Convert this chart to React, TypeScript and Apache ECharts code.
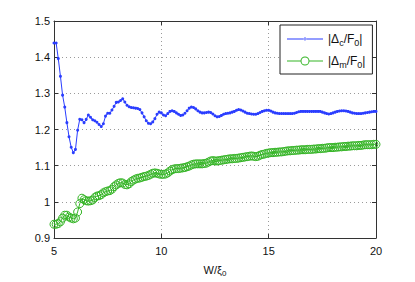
import React, { useEffect, useRef } from "react";
import * as echarts from "echarts";

const xs = [
  5, 5.1, 5.2, 5.3, 5.4, 5.5, 5.6, 5.7, 5.8, 5.9,
  6, 6.1, 6.2, 6.3, 6.4, 6.5, 6.6, 6.7, 6.8, 6.9,
  7, 7.1, 7.2, 7.3, 7.4, 7.5, 7.6, 7.7, 7.8, 7.9,
  8, 8.1, 8.2, 8.3, 8.4, 8.5, 8.6, 8.7, 8.8, 8.9,
  9, 9.1, 9.2, 9.3, 9.4, 9.5, 9.6, 9.7, 9.8, 9.9,
  10, 10.1, 10.2, 10.3, 10.4, 10.5, 10.6, 10.7, 10.8, 10.9,
  11, 11.1, 11.2, 11.3, 11.4, 11.5, 11.6, 11.7, 11.8, 11.9,
  12, 12.1, 12.2, 12.3, 12.4, 12.5, 12.6, 12.7, 12.8, 12.9,
  13, 13.1, 13.2, 13.3, 13.4, 13.5, 13.6, 13.7, 13.8, 13.9,
  14, 14.1, 14.2, 14.3, 14.4, 14.5, 14.6, 14.7, 14.8, 14.9,
  15, 15.1, 15.2, 15.3, 15.4, 15.5, 15.6, 15.7, 15.8, 15.9,
  16, 16.1, 16.2, 16.3, 16.4, 16.5, 16.6, 16.7, 16.8, 16.9,
  17, 17.1, 17.2, 17.3, 17.4, 17.5, 17.6, 17.7, 17.8, 17.9,
  18, 18.1, 18.2, 18.3, 18.4, 18.5, 18.6, 18.7, 18.8, 18.9,
  19, 19.1, 19.2, 19.3, 19.4, 19.5, 19.6, 19.7, 19.8, 19.9,
  20,
];

const deltaC = [
  1.439, 1.439, 1.396, 1.347, 1.295, 1.262, 1.219, 1.18, 1.151, 1.136,
  1.145, 1.198, 1.228, 1.227, 1.219, 1.228, 1.24, 1.234, 1.227, 1.224,
  1.22, 1.214, 1.208, 1.216, 1.237, 1.245, 1.245, 1.254, 1.264, 1.275,
  1.276, 1.28, 1.285, 1.276, 1.267, 1.263, 1.261, 1.26, 1.259, 1.258,
  1.255, 1.246, 1.235, 1.224, 1.217, 1.216, 1.221, 1.23, 1.242, 1.248,
  1.246, 1.24, 1.238, 1.244, 1.25, 1.252, 1.25, 1.246, 1.242, 1.239,
  1.24, 1.245, 1.252, 1.259, 1.262, 1.261, 1.257, 1.252, 1.248, 1.246,
  1.246, 1.247, 1.248, 1.247, 1.243, 1.238, 1.235, 1.236, 1.239, 1.242,
  1.244, 1.245, 1.246, 1.248, 1.25, 1.253, 1.255, 1.254, 1.251, 1.248,
  1.245, 1.244, 1.243, 1.242, 1.242, 1.244, 1.247, 1.25, 1.252, 1.253,
  1.253, 1.251, 1.248, 1.246, 1.245, 1.244, 1.244, 1.244, 1.244, 1.244,
  1.244, 1.244, 1.245, 1.247, 1.249, 1.25, 1.25, 1.25, 1.25, 1.25,
  1.25, 1.25, 1.25, 1.25, 1.25, 1.248, 1.246, 1.244, 1.243, 1.244,
  1.246, 1.248, 1.25, 1.251, 1.252, 1.252, 1.251, 1.25, 1.248, 1.246,
  1.245, 1.244, 1.244, 1.244, 1.245, 1.246, 1.247, 1.248, 1.249, 1.25,
  1.25,
];

const deltaM = [
  0.938, 0.938, 0.94, 0.945, 0.955, 0.963, 0.963, 0.958, 0.955, 0.953,
  0.955, 0.972, 0.995, 1.01, 1.006, 1.003, 1.002, 1.003, 1.005, 1.012,
  1.016, 1.017, 1.02, 1.025, 1.028, 1.03, 1.031, 1.035, 1.042, 1.047,
  1.051, 1.053, 1.052, 1.048, 1.047, 1.05, 1.056, 1.06, 1.063, 1.065,
  1.066, 1.068, 1.07, 1.071, 1.073, 1.076, 1.079, 1.08, 1.079, 1.077,
  1.076, 1.076, 1.077, 1.08, 1.085, 1.089, 1.091, 1.092, 1.092, 1.093,
  1.094, 1.095, 1.097, 1.099, 1.102, 1.104, 1.105, 1.105, 1.105, 1.105,
  1.106, 1.107, 1.11, 1.113, 1.114, 1.113, 1.113, 1.114, 1.115, 1.116,
  1.117, 1.118, 1.119, 1.119, 1.12, 1.12, 1.121, 1.122, 1.123, 1.124,
  1.125, 1.126, 1.127, 1.126, 1.125, 1.126, 1.129, 1.131, 1.132, 1.134,
  1.135, 1.136, 1.136, 1.137, 1.137, 1.138, 1.138, 1.139, 1.14, 1.141,
  1.141, 1.142, 1.142, 1.143, 1.143, 1.144, 1.144, 1.144, 1.145, 1.145,
  1.145, 1.146, 1.146, 1.147, 1.147, 1.148, 1.148, 1.149, 1.15, 1.15,
  1.15, 1.151, 1.151, 1.152, 1.152, 1.153, 1.153, 1.154, 1.154, 1.155,
  1.155, 1.155, 1.156, 1.156, 1.157, 1.158, 1.158, 1.158, 1.158, 1.159,
  1.159,
];

const xMin = 5;
const xMax = 20;
const xStep = 5;
const yMin = 0.9;
const yMax = 1.5;
const yStep = 0.1;

const seriesNames = ["|Δ{s|c}/F{s|0}|", "|Δ{s|m}/F{s|0}|"];
const xAxisName = "{n|W/ξ}{s|0}";

const FONT = "'Liberation Sans', Arial, Helvetica, sans-serif";
const BLUE = "#2a3dff";
const GREEN = "#35b526";

// legend icons: line with a small dot / line with a hollow circle
const ICON_DOT =
  "path://M0 4.5H36V5.5H0Z M16.6 5A1.4 1.4 0 1 0 19.4 5A1.4 1.4 0 1 0 16.6 5Z";
const ICON_RING =
  "path://M0 4.5H13.6V5.5H0Z M22.4 4.5H36V5.5H22.4Z M13.5 5A4.5 4.5 0 1 1 22.5 5A4.5 4.5 0 1 1 13.5 5Z M14.5 5A3.5 3.5 0 1 0 21.5 5A3.5 3.5 0 1 0 14.5 5Z";

export default function App() {
  const ref = useRef<HTMLDivElement>(null);

  useEffect(() => {
    if (!ref.current) return;
    const chart = echarts.init(ref.current, null, { renderer: "svg" });
    const axisLine = { show: true, lineStyle: { color: "#333", width: 1 } };
    const tick = { show: true, inside: true, length: 4, lineStyle: { color: "#333" } };
    const grid = { show: true, lineStyle: { color: "#9a9a9a", type: [1, 3], width: 1 } };
    chart.setOption({
      animation: false,
      backgroundColor: "#fff",
      textStyle: { fontFamily: FONT },
      grid: { left: 54, right: 39, top: 21, bottom: 39, containLabel: false },
      xAxis: [
        {
          type: "value",
          min: xMin,
          max: xMax,
          interval: xStep,
          position: "bottom",
          axisLine,
          axisTick: tick,
          splitLine: grid,
          axisLabel: { color: "#111", fontSize: 11, fontFamily: FONT, margin: 7 },
          name: xAxisName,
          nameLocation: "middle",
          nameGap: 24,
          nameTextStyle: {
            color: "#111",
            fontFamily: FONT,
            rich: {
              n: { fontSize: 11, fontFamily: FONT, color: "#111" },
              s: { fontSize: 8, fontFamily: FONT, color: "#111", padding: [7, 0, 0, 0] },
            },
          },
        },
        {
          type: "value",
          min: xMin,
          max: xMax,
          interval: xStep,
          position: "top",
          axisLine,
          axisTick: tick,
          splitLine: { show: false },
          axisLabel: { show: false },
        },
      ],
      yAxis: [
        {
          type: "value",
          min: yMin,
          max: yMax,
          interval: yStep,
          position: "left",
          axisLine,
          axisTick: tick,
          splitLine: grid,
          axisLabel: { color: "#111", fontSize: 11, fontFamily: FONT, margin: 4 },
        },
        {
          type: "value",
          min: yMin,
          max: yMax,
          interval: yStep,
          position: "right",
          axisLine,
          axisTick: tick,
          splitLine: { show: false },
          axisLabel: { show: false },
        },
      ],
      legend: {
        left: 280,
        top: 25,
        orient: "vertical",
        backgroundColor: "#fff",
        borderColor: "#222",
        borderWidth: 1,
        borderRadius: 0,
        padding: [8, 7, 5, 7],
        itemGap: 8,
        itemWidth: 36,
        itemHeight: 10,
        textStyle: {
          color: "#111",
          fontSize: 12,
          fontFamily: FONT,
          rich: {
            s: { fontSize: 9, fontFamily: FONT, color: "#111", padding: [7, 0, 0, 0] },
          },
        },
        data: [
          { name: seriesNames[0], icon: ICON_DOT, itemStyle: { color: BLUE, borderWidth: 0 } },
          { name: seriesNames[1], icon: ICON_RING, itemStyle: { color: GREEN, borderWidth: 0 } },
        ],
      },
      series: [
        {
          name: seriesNames[0],
          type: "line",
          xAxisIndex: 0,
          yAxisIndex: 0,
          data: xs.map((x, i) => [x, deltaC[i]]),
          symbol: "circle",
          symbolSize: 3,
          showSymbol: true,
          clip: false,
          lineStyle: { color: BLUE, width: 1 },
          itemStyle: { color: BLUE },
          z: 3,
        },
        {
          name: seriesNames[1],
          type: "line",
          xAxisIndex: 0,
          yAxisIndex: 0,
          data: xs.map((x, i) => [x, deltaM[i]]),
          symbol: "circle",
          symbolSize: 8,
          showSymbol: true,
          clip: false,
          lineStyle: { color: GREEN, width: 1 },
          itemStyle: { color: "rgba(0,0,0,0)", borderColor: GREEN, borderWidth: 1 },
          z: 2,
        },
      ],
    });
    return () => chart.dispose();
  }, []);

  return (
    <div
      ref={ref}
      style={{ position: "fixed", left: 0, top: 0, width: 415, height: 282, background: "#fff" }}
    />
  );
}
